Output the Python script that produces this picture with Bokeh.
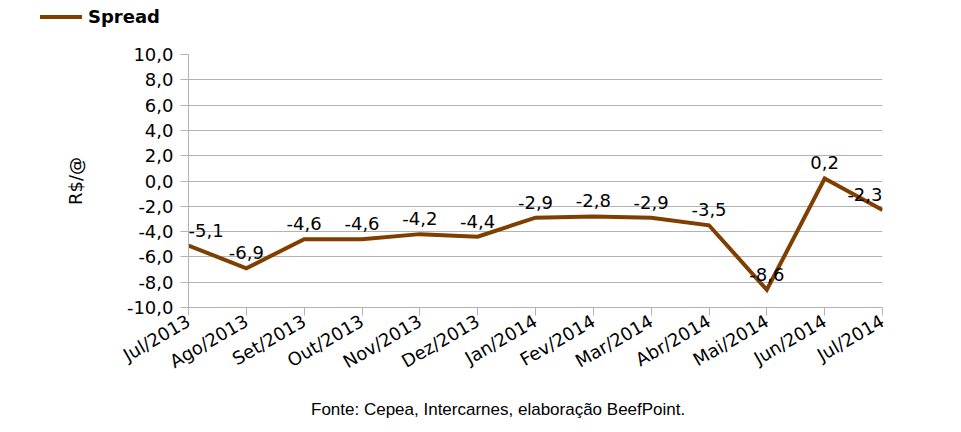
from bokeh.plotting import figure
from bokeh.models import (Range1d, FixedTicker, LabelSet, ColumnDataSource, Div)
from bokeh.core.properties import value
from bokeh.layouts import column
from bokeh.embed import file_html
from bokeh.resources import INLINE
import math

months = ["Jul/2013", "Ago/2013", "Set/2013", "Out/2013", "Nov/2013", "Dez/2013",
          "Jan/2014", "Fev/2014", "Mar/2014", "Abr/2014", "Mai/2014", "Jun/2014",
          "Jul/2014"]
spread = [-5.1, -6.9, -4.6, -4.6, -4.2, -4.4, -2.9, -2.8, -2.9, -3.5, -8.6, 0.2, -2.3]
y_ticks = [-10, -8, -6, -4, -2, 0, 2, 4, 6, 8, 10]
y_tick_labels = ["-10,0", "-8,0", "-6,0", "-4,0", "-2,0", "0,0", "2,0", "4,0",
                 "6,0", "8,0", "10,0"]
series_name = "Spread"
y_title = "R$/@"
source_note = "Fonte: Cepea, Intercarnes, elaboração BeefPoint."

FONT = "DejaVu Sans"
GRAY = "#b3b3b3"
BROWN = "#7f3f00"
W = 945

n = len(months)
xs = list(range(n))
lab = [f"{v:.1f}".replace(".", ",") for v in spread]
src = ColumnDataSource(dict(x=xs, y=spread, lab=lab))

# ---------- legend strip ----------
TOP_H = 34
legend_div = Div(width=W, height=TOP_H, margin=0, text=(
    '<div style="position:relative;width:%dpx;height:%dpx;">'
    '<span style="position:absolute;left:40px;top:15px;width:42px;height:0;'
    'border-top:4px solid %s;"></span>'
    '<span style="position:absolute;left:88px;top:5px;font-family:\'%s\';'
    'font-size:18px;font-weight:bold;line-height:24px;color:black;">%s</span>'
    '</div>') % (W, TOP_H, BROWN, FONT, series_name))

# ---------- main chart ----------
FL, FR, FT, FB = 188, 63, 20, 88
p = figure(width=W, height=FT + 253 + FB, output_backend="svg", toolbar_location=None,
           x_range=Range1d(0, n - 1), y_range=Range1d(-10, 10),
           min_border_left=FL, min_border_right=FR, min_border_top=FT,
           min_border_bottom=FB, margin=0)
p.outline_line_color = None
p.background_fill_color = "white"
p.border_fill_color = "white"

r = p.line("x", "y", source=src, line_color=BROWN, line_width=4, line_join="miter")

p.xaxis.ticker = FixedTicker(ticks=xs)
p.xaxis.major_label_overrides = {i: m for i, m in enumerate(months)}
p.xaxis.major_label_orientation = math.pi / 6
p.yaxis.ticker = FixedTicker(ticks=y_ticks)
p.yaxis.major_label_overrides = {t: l for t, l in zip(y_ticks, y_tick_labels)}
for ax in (p.xaxis, p.yaxis):
    ax.axis_line_color = GRAY
    ax.major_tick_line_color = GRAY
    ax.minor_tick_line_color = None
    ax.major_tick_in = 0
    ax.major_tick_out = 8
    ax.major_label_text_font = FONT
    ax.major_label_text_font_size = "18px"
    ax.major_label_text_color = "black"
p.yaxis.major_label_standoff = 7
p.xaxis.major_label_standoff = 4
p.yaxis.axis_label = y_title
p.yaxis.axis_label_text_font = FONT
p.yaxis.axis_label_text_font_size = "18px"
p.yaxis.axis_label_text_font_style = "normal"
p.yaxis.axis_label_text_color = "black"
p.yaxis.axis_label_standoff = 38

p.xgrid.grid_line_color = None
p.ygrid.grid_line_color = GRAY
p.ygrid.grid_line_width = 1

# data labels (end labels aligned inwards so the frame does not cut them)
groups = [(slice(1, n - 1), "center"), (slice(0, 1), "left"), (slice(n - 1, n), "right")]
for sl, align in groups:
    s = ColumnDataSource(dict(x=xs[sl], y=spread[sl], lab=lab[sl]))
    p.add_layout(LabelSet(x="x", y="y", text="lab", source=s,
                          text_align=value(align), text_baseline=value("alphabetic"),
                          y_offset=9, text_font=value(FONT),
                          text_font_size=value("18px"), text_color="black"))

# ---------- source note ----------
BOT_H = 30
note_div = Div(width=W, height=BOT_H, margin=0, text=(
    '<div style="width:%dpx;height:%dpx;line-height:%dpx;padding-left:311px;'
    'box-sizing:border-box;font-family:\'Liberation Sans\';font-size:17px;'
    'color:black;white-space:nowrap;">%s</div>') % (W, BOT_H, BOT_H, source_note))

layout = column(legend_div, p, note_div, spacing=0)
open("out.html", "w").write(file_html(layout, INLINE))
